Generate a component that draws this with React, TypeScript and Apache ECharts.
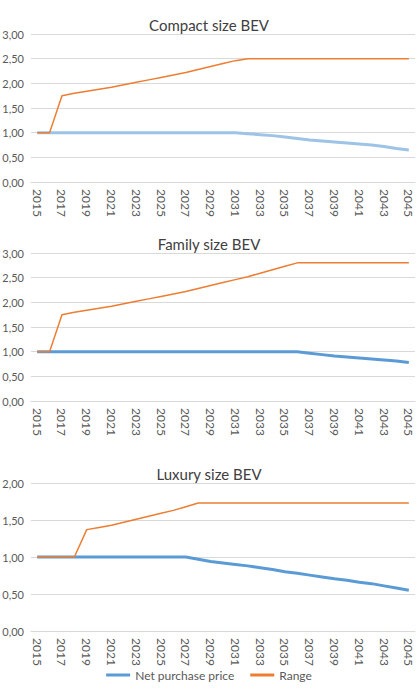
import React, { useEffect, useRef } from "react";
import * as echarts from "echarts";

const years = [
  "2015", "2016", "2017", "2018", "2019", "2020", "2021", "2022", "2023", "2024",
  "2025", "2026", "2027", "2028", "2029", "2030", "2031", "2032", "2033", "2034",
  "2035", "2036", "2037", "2038", "2039", "2040", "2041", "2042", "2043", "2044", "2045",
];

const titles = ["Compact size BEV", "Family size BEV", "Luxury size BEV"];

const compactPrice = [
  1, 1, 1, 1, 1, 1, 1, 1, 1, 1, 1, 1, 1, 1, 1, 1, 1,
  0.98, 0.96, 0.94, 0.91, 0.88, 0.85, 0.83, 0.81, 0.79, 0.77, 0.75, 0.72, 0.68, 0.65,
];
const compactRange = [
  1, 1, 1.75, 1.8, 1.84, 1.88, 1.92, 1.97, 2.02, 2.07, 2.12, 2.17, 2.22, 2.28, 2.34, 2.4, 2.46,
  2.5, 2.5, 2.5, 2.5, 2.5, 2.5, 2.5, 2.5, 2.5, 2.5, 2.5, 2.5, 2.5, 2.5,
];

const familyPrice = [
  1, 1, 1, 1, 1, 1, 1, 1, 1, 1, 1, 1, 1, 1, 1, 1, 1, 1, 1, 1, 1, 1,
  0.97, 0.94, 0.91, 0.89, 0.87, 0.85, 0.83, 0.81, 0.78,
];
const familyRange = [
  1, 1, 1.75, 1.8, 1.84, 1.88, 1.92, 1.97, 2.02, 2.07, 2.12, 2.17, 2.22, 2.28, 2.34, 2.4, 2.46,
  2.52, 2.59, 2.66, 2.73, 2.8, 2.8, 2.8, 2.8, 2.8, 2.8, 2.8, 2.8, 2.8, 2.8,
];

const luxuryPrice = [
  1, 1, 1, 1, 1, 1, 1, 1, 1, 1, 1, 1, 1,
  0.97, 0.94, 0.92, 0.9, 0.88, 0.855, 0.83, 0.8, 0.78, 0.755, 0.73, 0.705, 0.685, 0.66, 0.64, 0.61, 0.58, 0.55,
];
const luxuryRange = [
  1, 1, 1, 1, 1.37, 1.4, 1.43, 1.47, 1.51, 1.55, 1.59, 1.63, 1.68, 1.73,
  1.73, 1.73, 1.73, 1.73, 1.73, 1.73, 1.73, 1.73, 1.73, 1.73, 1.73, 1.73, 1.73, 1.73, 1.73, 1.73, 1.73,
];

const yMax = [3, 3, 2];
const legendNames = ["Net purchase price", "Range"];

const FONT = "Lato, 'Open Sans', sans-serif";
const GRAY = "#595959";

export default function App() {
  const ref = useRef<HTMLDivElement>(null);

  useEffect(() => {
    if (!ref.current) return;
    const chart = echarts.init(ref.current, undefined, { renderer: "svg" });

    const gridTops = [34, 253, 483];
    const titleTops = [12, 231, 461];
    const priceColors = ["#9DC3E6", "#5B9BD5", "#5B9BD5"];
    const priceData = [compactPrice, familyPrice, luxuryPrice];
    const rangeData = [compactRange, familyRange, luxuryRange];

    const option: any = {
      animation: false,
      backgroundColor: "#ffffff",
      textStyle: { fontFamily: FONT },
      title: titles.map((t, i) => ({
        text: t,
        left: "center",
        top: titleTops[i],
        textStyle: { fontFamily: FONT, fontSize: 15, fontWeight: "normal", color: "#404040" },
      })),
      legend: {
        data: [
          { name: legendNames[0], icon: "rect" },
          { name: legendNames[1], icon: "rect" },
        ],
        bottom: 3,
        left: "center",
        itemWidth: 24,
        itemHeight: 3,
        itemGap: 16,
        textStyle: { fontFamily: FONT, fontSize: 12, color: GRAY },
      },
      grid: gridTops.map((t) => ({
        left: 31,
        right: 3,
        top: t,
        height: 148,
        containLabel: false,
        outerBoundsMode: "none",
      })),
      xAxis: gridTops.map((_, i) => ({
        type: "category",
        gridIndex: i,
        data: years,
        boundaryGap: true,
        axisTick: { show: false },
        axisLine: { lineStyle: { color: "#D9D9D9" } },
        axisLabel: {
          interval: 1,
          rotate: -90,
          margin: 7,
          fontSize: 12,
          color: GRAY,
          fontFamily: FONT,
        },
      })),
      yAxis: gridTops.map((_, i) => ({
        type: "value",
        gridIndex: i,
        min: 0,
        max: yMax[i],
        interval: 0.5,
        axisLine: { show: false },
        axisTick: { show: false },
        splitLine: { lineStyle: { color: "#D9D9D9" } },
        axisLabel: {
          margin: 7,
          fontSize: 11,
          color: GRAY,
          fontFamily: FONT,
          formatter: (v: number) => v.toFixed(2).replace(".", ","),
        },
      })),
      series: [0, 1, 2].flatMap((i) => [
        {
          type: "line",
          name: i === 2 ? legendNames[0] : "price" + i,
          xAxisIndex: i,
          yAxisIndex: i,
          data: priceData[i],
          symbol: "none",
          color: priceColors[i],
          lineStyle: { width: 3, color: priceColors[i] },
        },
        {
          type: "line",
          name: i === 2 ? legendNames[1] : "range" + i,
          xAxisIndex: i,
          yAxisIndex: i,
          data: rangeData[i],
          symbol: "none",
          color: "#ED7D31",
          lineStyle: { width: 1.5, color: "#ED7D31" },
        },
      ]),
    };

    chart.setOption(option);
    return () => chart.dispose();
  }, []);

  return (
    <div
      ref={ref}
      style={{ position: "fixed", left: 0, top: 0, width: 418, height: 689 }}
    />
  );
}
